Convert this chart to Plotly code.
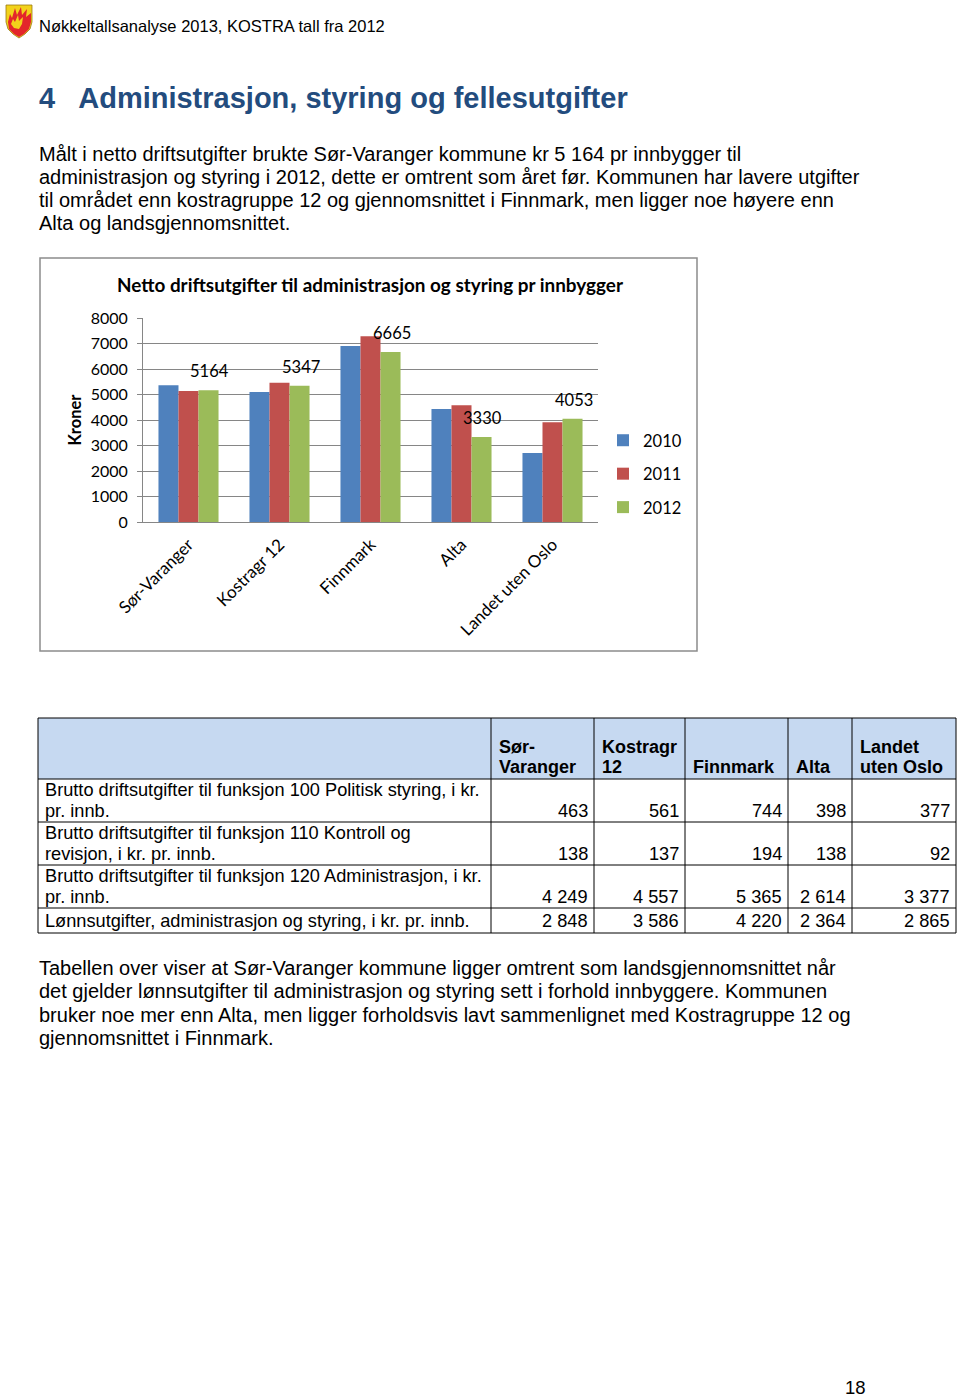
import plotly.graph_objects as go

W, H = 960, 1397

# ---------------- data ----------------
categories = ["Sør-Varanger", "Kostragr 12", "Finnmark", "Alta", "Landet uten Oslo"]
years = ["2010", "2011", "2012"]
v2010 = [5360, 5100, 6900, 4430, 2705]
v2011 = [5140, 5460, 7280, 4575, 3910]
v2012 = [5164, 5347, 6665, 3330, 4053]
colors = ["#4F81BD", "#C0504D", "#9BBB59"]

table_cols = ["Sør-<br>Varanger", "Kostragr<br>12", "Finnmark", "Alta", "Landet<br>uten Oslo"]
table_rows = [
    "Brutto driftsutgifter til funksjon 100 Politisk styring, i kr.<br>pr. innb.",
    "Brutto driftsutgifter til funksjon 110 Kontroll og<br>revisjon, i kr. pr. innb.",
    "Brutto driftsutgifter til funksjon 120 Administrasjon, i kr.<br>pr. innb.",
    "Lønnsutgifter, administrasjon og styring, i kr. pr. innb.",
]
table_values = [
    [463, 561, 744, 398, 377],
    [138, 137, 194, 138, 92],
    [4249, 4557, 5365, 2614, 3377],
    [2848, 3586, 4220, 2364, 2865],
]

header_text = "Nøkkeltallsanalyse 2013, KOSTRA tall fra 2012"
heading = "4   Administrasjon, styring og fellesutgifter"
para1 = [
    "Målt i netto driftsutgifter brukte Sør-Varanger kommune kr 5 164 pr innbygger til",
    "administrasjon og styring i 2012, dette er omtrent som året før. Kommunen har lavere utgifter",
    "til området enn kostragruppe 12 og gjennomsnittet i Finnmark, men ligger noe høyere enn",
    "Alta og landsgjennomsnittet.",
]
para2 = [
    "Tabellen over viser at Sør-Varanger kommune ligger omtrent som landsgjennomsnittet når",
    "det gjelder lønnsutgifter til administrasjon og styring sett i forhold innbyggere. Kommunen",
    "bruker noe mer enn Alta, men ligger forholdsvis lavt sammenlignet med Kostragruppe 12 og",
    "gjennomsnittet i Finnmark.",
]
page_no = "18"
chart_title = "Netto driftsutgifter til administrasjon og styring pr innbygger"

# ---------------- helpers ----------------
def X(px):
    return px / W

def Y(py):
    return 1 - py / H

def fmt(n):
    return f"{n:,}".replace(",", " ")

TXT = "Liberation Sans, Arial, sans-serif"
CHF = "Lato, Calibri, sans-serif"

fig = go.Figure()
for yr, vals, col in zip(years, [v2010, v2011, v2012], colors):
    fig.add_trace(go.Bar(name=yr, x=categories, y=vals, marker_color=col,
                         marker_line_width=0, legendgroup=yr))

annotations = []
shapes = []

# data labels on 2012 bars
for c, v in zip(categories, v2012):
    annotations.append(dict(x=c, y=v, xref="x", yref="y", text=str(v), showarrow=False,
                            xshift=21, yshift=19, yanchor="middle",
                            font=dict(family=CHF, size=16.5, color="#000")))

# chart title
annotations.append(dict(x=X(370), y=Y(284), xref="paper", yref="paper", text=f"<b>{chart_title}</b>",
                        showarrow=False, xanchor="center", yanchor="middle",
                        font=dict(family=CHF, size=18.9, color="#000")))
# chart border
shapes.append(dict(type="rect", xref="paper", yref="paper", x0=X(40), x1=X(697), y0=Y(651), y1=Y(258),
                   line=dict(color="#8C8C8C", width=1.5), fillcolor="rgba(0,0,0,0)", layer="below"))

# page header
annotations.append(dict(x=X(36.5), y=Y(26), xref="paper", yref="paper", text=header_text, showarrow=False,
                        xanchor="left", yanchor="middle", font=dict(family=TXT, size=16.5, color="#000")))
annotations.append(dict(x=X(36.5), y=Y(98), xref="paper", yref="paper", text=f"<b>{heading}</b>", showarrow=False,
                        xanchor="left", yanchor="middle", font=dict(family=TXT, size=29, color="#234C7E")))
for i, line in enumerate(para1):
    annotations.append(dict(x=X(36.5), y=Y(154 + i * 23), xref="paper", yref="paper", text=line, showarrow=False,
                            xanchor="left", yanchor="middle", font=dict(family=TXT, size=20, color="#000")))
for i, line in enumerate(para2):
    annotations.append(dict(x=X(36.5), y=Y(968 + i * 23.3), xref="paper", yref="paper", text=line, showarrow=False,
                            xanchor="left", yanchor="middle", font=dict(family=TXT, size=20, color="#000")))
annotations.append(dict(x=X(843), y=Y(1387), xref="paper", yref="paper", text=page_no, showarrow=False,
                        xanchor="left", yanchor="middle", font=dict(family=TXT, size=18.5, color="#000")))

# shield logo
def path(pts):
    s = "M " + " L ".join(f"{X(a):.5f},{Y(b):.5f}" for a, b in pts) + " Z"
    return s

shield = [(6, 5), (32, 5), (32, 22), (30, 29), (25, 34), (19, 38), (13, 34), (8, 29), (6, 22)]
shapes.append(dict(type="path", xref="paper", yref="paper", path=path(shield),
                   fillcolor="#F2D21B", line=dict(color="#9A7A10", width=0.8)))
flame = [(8, 22), (10, 14), (12, 18), (15, 8), (17, 15), (21, 7), (22, 15), (27, 9), (26, 17), (31, 13),
         (31, 22), (29, 29), (24, 34), (19, 37), (14, 34), (9, 29)]
shapes.append(dict(type="path", xref="paper", yref="paper", path=path(flame),
                   fillcolor="#E3262B", line=dict(width=0)))
flame2 = [(11, 24), (13, 19), (15, 22), (18, 15), (19, 21), (23, 17), (22, 24), (19, 29), (14, 28)]
shapes.append(dict(type="path", xref="paper", yref="paper", path=path(flame2),
                   fillcolor="#F2D21B", line=dict(width=0)))

# ---------------- table ----------------
col_edges = [38, 491, 594, 685, 788, 852, 956]
row_edges = [718, 779, 822, 865, 908, 933]
shapes.append(dict(type="rect", xref="paper", yref="paper", x0=X(col_edges[0]), x1=X(col_edges[-1]),
                   y0=Y(row_edges[1]), y1=Y(row_edges[0]), fillcolor="#C6D9F1", line=dict(width=0), layer="below"))
for xe in col_edges:
    shapes.append(dict(type="line", xref="paper", yref="paper", x0=X(xe), x1=X(xe),
                       y0=Y(row_edges[0]), y1=Y(row_edges[-1]), line=dict(color="#000", width=1)))
for ye in row_edges:
    shapes.append(dict(type="line", xref="paper", yref="paper", x0=X(col_edges[0]), x1=X(col_edges[-1]),
                       y0=Y(ye), y1=Y(ye), line=dict(color="#000", width=1)))

LINE = 21
TFS = 18.2
# header labels (bottom aligned)
for j, htxt in enumerate(table_cols):
    lines = htxt.split("<br>")
    xl = col_edges[j + 1] + 5.5
    for k, ln in enumerate(lines):
        yc = row_edges[1] - 12 - (len(lines) - 1 - k) * 20
        annotations.append(dict(x=X(xl), y=Y(yc), xref="paper", yref="paper", text=f"<b>{ln}</b>",
                                showarrow=False, xanchor="left", yanchor="middle",
                                font=dict(family=TXT, size=TFS - 0.2, color="#000")))
# body rows
for i, (lab, vals) in enumerate(zip(table_rows, table_values)):
    top, bot = row_edges[i + 1], row_edges[i + 2]
    lines = lab.split("<br>")
    if len(lines) == 1:
        ys = [(top + bot) / 2]
    else:
        ys = [top + 11 + k * LINE for k in range(len(lines))]
    for ln, yc in zip(lines, ys):
        annotations.append(dict(x=X(col_edges[0] + 5), y=Y(yc), xref="paper", yref="paper", text=ln,
                                showarrow=False, xanchor="left", yanchor="middle",
                                font=dict(family=TXT, size=TFS, color="#000")))
    for j, v in enumerate(vals):
        annotations.append(dict(x=X(col_edges[j + 2] - 4), y=Y(ys[-1]), xref="paper", yref="paper", text=fmt(v),
                                showarrow=False, xanchor="right", yanchor="middle",
                                font=dict(family=TXT, size=TFS, color="#000")))

fig.update_layout(
    width=W, height=H, margin=dict(l=0, r=0, t=0, b=0, autoexpand=False),
    paper_bgcolor="white", plot_bgcolor="white",
    barmode="group", bargap=0.34, bargroupgap=0,
    showlegend=True,
    legend=dict(x=X(603), y=Y(423), xanchor="left", yanchor="top", font=dict(family=CHF, size=16.5, color="#000"),
                itemwidth=30, tracegroupgap=9, bgcolor="rgba(0,0,0,0)", traceorder="grouped"),
    xaxis=dict(domain=[X(143), X(598)], type="category", showline=True, linecolor="#868686", linewidth=1,
               ticks="", tickangle=-45, tickfont=dict(family=CHF, size=17, color="#000"), showgrid=False,
               automargin=False, ticklabelstandoff=5),
    yaxis=dict(domain=[Y(522), Y(318)], range=[0, 8000], dtick=1000, showgrid=True, gridcolor="#868686",
               gridwidth=1, showline=True, linecolor="#868686", ticks="outside", ticklen=5, tickcolor="#868686",
               tickfont=dict(family=CHF, size=16, color="#000"), ticklabelstandoff=6, automargin=False,
               title=dict(text="<b>Kroner</b>", font=dict(family=CHF, size=16.5, color="#000"), standoff=4),
               zeroline=False),
    annotations=annotations, shapes=shapes,
)

fig.write_html("out.html")
